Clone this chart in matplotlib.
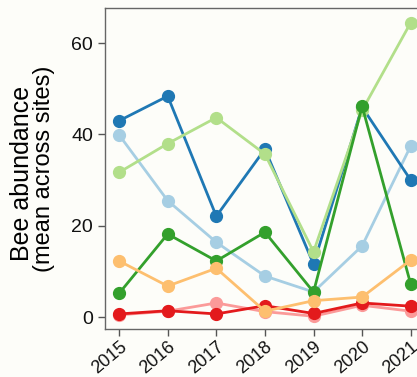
import matplotlib
matplotlib.use("Agg")
import matplotlib.pyplot as plt

plt.rcParams['font.family'] = ['Liberation Sans', 'DejaVu Sans']

years = [2015, 2016, 2017, 2018, 2019, 2020, 2021]

# mean bee abundance per group (Paired palette order)
light_blue = [39.9, 25.5, 16.4, 9.0, 5.5, 15.6, 37.5]
dark_blue = [43.0, 48.4, 22.1, 36.8, 11.6, 46.0, 30.0]
light_green = [31.7, 38.0, 43.7, 35.7, 14.3, 45.3, 64.5]
green = [5.2, 18.2, 12.3, 18.6, 5.5, 46.2, 7.2]
pink = [0.5, 1.3, 3.1, 1.2, 0.2, 2.6, 1.3]
red = [0.7, 1.4, 0.7, 2.5, 0.8, 3.1, 2.4]
orange = [12.3, 6.8, 10.7, 1.3, 3.6, 4.4, 12.5]

series = [light_blue, dark_blue, light_green, green, pink, red, orange]
colors = ['#a6cee3', '#1f78b4', '#b2df8a', '#33a02c', '#fb9a99', '#e31a1c', '#fdbf6f']

bg = '#fdfdf9'
fig = plt.figure(figsize=(4.17, 3.77), dpi=100, facecolor=bg)
ax = fig.add_axes([0.2518, 0.1273, 0.767, 0.8515])
ax.set_facecolor(bg)

for vals, c in zip(series, colors):
    ax.plot(years, vals, color=c, lw=2.0, marker='o', ms=8.5, mec=c, mfc=c)

ax.set_xlim(2014.71, 2021.29)
ax.set_ylim(-2.6, 67.7)
ax.set_xticks(years)
ax.set_yticks([0, 20, 40, 60])
ax.set_xticklabels([str(y) for y in years], rotation=40, ha='right',
                   rotation_mode='anchor', fontsize=13)
ax.tick_params(axis='y', labelsize=14)
ax.tick_params(axis='x', pad=1.5)
ax.tick_params(length=5, width=1, color='#555555', labelcolor='#111111')
for s in ax.spines.values():
    s.set_color('#666666')
    s.set_linewidth(1)

fig.text(0.053, 0.539, 'Bee abundance', rotation=90, fontsize=18,
         ha='center', va='center')
fig.text(0.106, 0.552, '(mean across sites)', rotation=90, fontsize=17,
         ha='center', va='center')

fig.savefig('out.png', dpi=100, facecolor=bg)
